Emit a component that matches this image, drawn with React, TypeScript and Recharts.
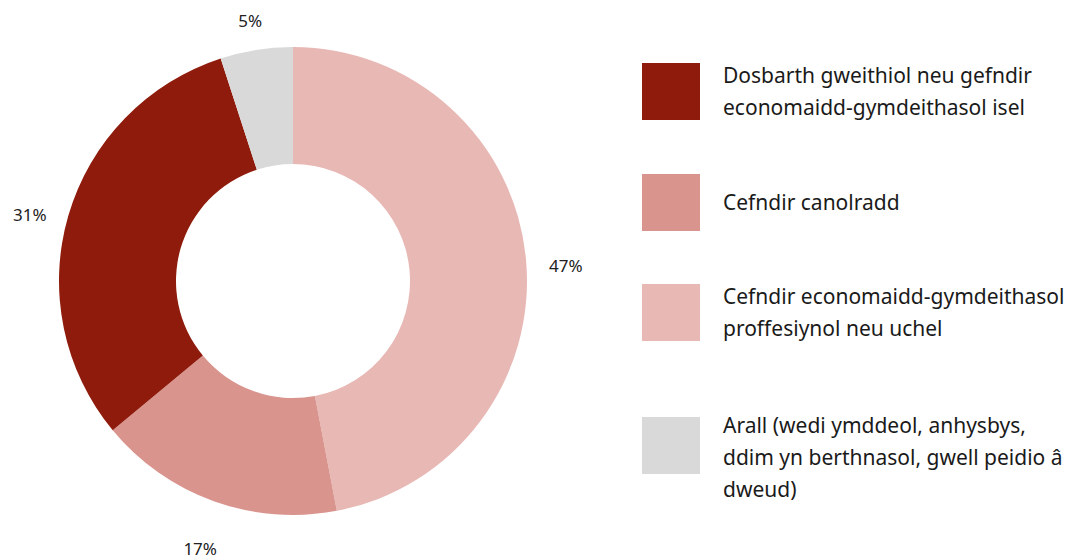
import { PieChart, Pie, Cell, Legend } from "recharts";

const categories = [
  "Cefndir economaidd-gymdeithasol proffesiynol neu uchel",
  "Cefndir canolradd",
  "Dosbarth gweithiol neu gefndir economaidd-gymdeithasol isel",
  "Arall (wedi ymddeol, anhysbys, ddim yn berthnasol, gwell peidio â dweud)",
];
const shares = [47, 17, 31, 5];
const colors = ["#E8B8B5", "#D9948D", "#8E1B0B", "#D9D9D9"];

// legend order and line breaks as in the original
const legendOrder = [2, 1, 0, 3];
const legendLines = [
  ["Dosbarth gweithiol neu gefndir", "economaidd-gymdeithasol isel"],
  ["Cefndir canolradd"],
  ["Cefndir economaidd-gymdeithasol", "proffesiynol neu uchel"],
  ["Arall (wedi ymddeol, anhysbys,", "ddim yn berthnasol, gwell peidio â", "dweud)"],
];

const data = categories.map((name, i) => ({ name, value: shares[i], color: colors[i] }));

const FONT = "'Noto Sans', sans-serif";
const RAD = Math.PI / 180;

const renderLabel = (p: any) => {
  const r = 274;
  const x = p.cx + r * Math.cos(-p.midAngle * RAD);
  const y = p.cy + r * Math.sin(-p.midAngle * RAD) + 10;
  return (
    <text x={x} y={y} textAnchor="middle" dominantBaseline="central" fill="#222" fontSize={17} fontFamily={FONT}>
      {`${p.value}%`}
    </text>
  );
};

const squareTops = [63, 174, 284, 417];
const LINE_H = 32;

const LegendContent = () => (
  <div style={{ position: "relative", width: 447, height: 559, fontFamily: FONT }}>
    {legendOrder.map((idx, i) => {
      const lines = legendLines[i];
      const top = squareTops[i];
      const textTop = lines.length === 3 ? top - 8 : top + 27.5 - (lines.length * LINE_H) / 2;
      return (
        <div key={idx}>
          <div
            style={{
              position: "absolute",
              left: 0,
              top,
              width: 58,
              height: 57,
              background: colors[idx],
            }}
          />
          <div
            style={{
              position: "absolute",
              left: 81,
              top: textTop,
              fontSize: 21,
              lineHeight: `${LINE_H}px`,
              color: "#1a1a1a",
              whiteSpace: "nowrap",
            }}
          >
            {lines.map((l, k) => (
              <div key={k}>{l}</div>
            ))}
          </div>
        </div>
      );
    })}
  </div>
);

export default function App() {
  return (
    <div style={{ position: "absolute", left: 0, top: 0, background: "#fff" }}>
      <PieChart width={1089} height={559} margin={{ top: 0, right: 0, bottom: 0, left: 0 }}>
        <Pie
          data={data}
          dataKey="value"
          nameKey="name"
          cx={293}
          cy={281}
          innerRadius={117}
          outerRadius={234}
          startAngle={90}
          endAngle={-270}
          stroke="none"
          label={renderLabel}
          labelLine={false}
          isAnimationActive={false}
        >
          {data.map((d) => (
            <Cell key={d.name} fill={d.color} />
          ))}
        </Pie>
        <Legend
          content={<LegendContent />}
          layout="vertical"
          verticalAlign="top"
          align="right"
          wrapperStyle={{ left: 642, top: 0, width: 447 }}
        />
      </PieChart>
    </div>
  );
}
